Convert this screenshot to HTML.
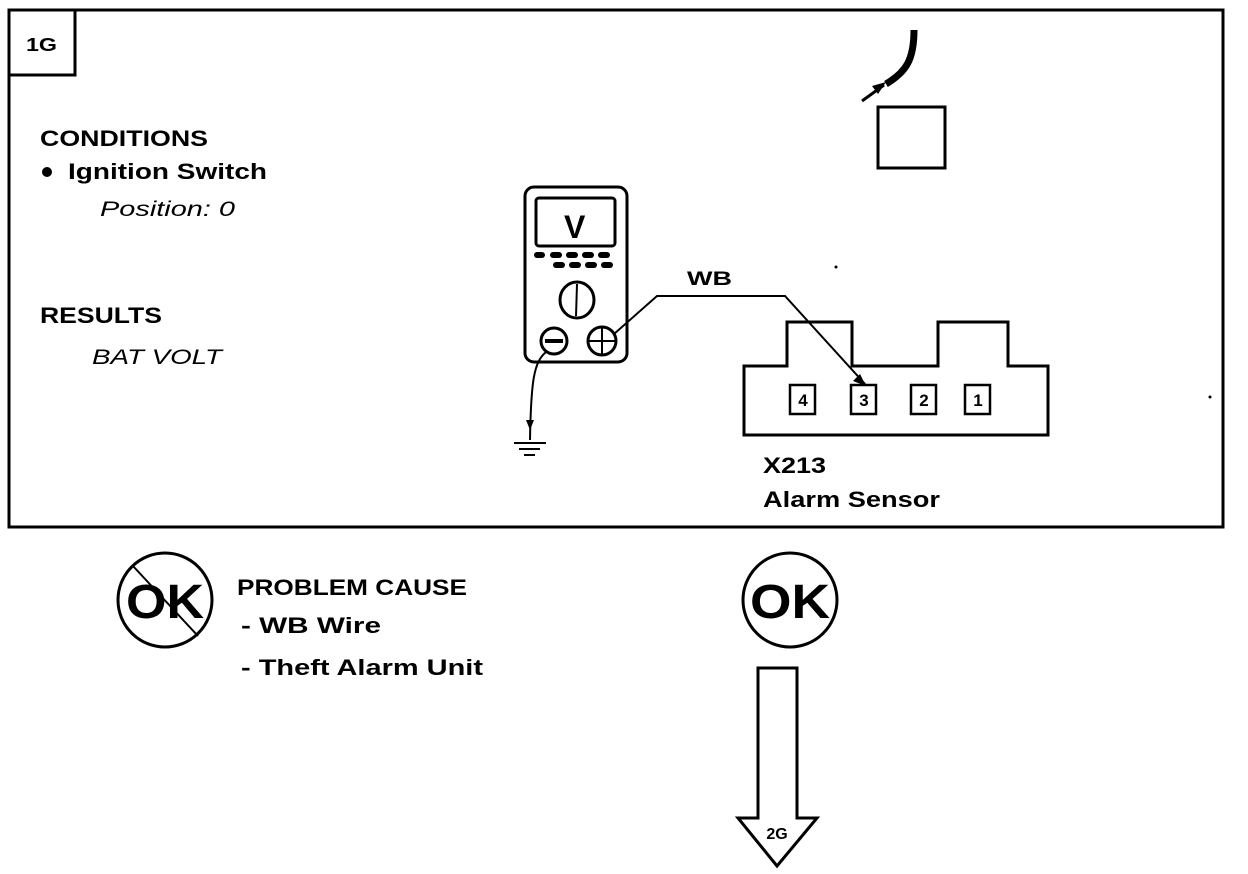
<!DOCTYPE html>
<html><head><meta charset="utf-8"><style>
html,body{margin:0;padding:0;background:#fff;}
svg{display:block;}
text{font-family:"Liberation Sans",Arial,sans-serif;font-weight:bold;fill:#000;}
.it{font-style:italic;font-weight:normal;}
</style></head><body>
<svg width="1248" height="874" viewBox="0 0 1248 874" xmlns="http://www.w3.org/2000/svg">
<rect x="9" y="10" width="1214" height="517" fill="none" stroke="#000" stroke-width="3"/>
<rect x="9" y="10" width="66" height="65" fill="none" stroke="#000" stroke-width="3"/>
<text x="26" y="51" font-size="18" textLength="31" lengthAdjust="spacingAndGlyphs">1G</text>
<text x="40" y="146" font-size="22" textLength="168" lengthAdjust="spacingAndGlyphs">CONDITIONS</text>
<circle cx="47" cy="172" r="5"/>
<text x="68" y="179" font-size="22" textLength="199" lengthAdjust="spacingAndGlyphs">Ignition Switch</text>
<text x="100" y="216" font-size="21" class="it" textLength="135" lengthAdjust="spacingAndGlyphs">Position: 0</text>
<text x="40" y="323" font-size="22" textLength="122" lengthAdjust="spacingAndGlyphs">RESULTS</text>
<text x="92" y="364" font-size="21" class="it" textLength="130" lengthAdjust="spacingAndGlyphs">BAT VOLT</text>

<path d="M914 30 C914 60 906 72 886 84" fill="none" stroke="#000" stroke-width="7"/>
<line x1="862" y1="101" x2="884" y2="85" stroke="#000" stroke-width="3"/>
<polygon points="886,82 872,86 878,94" />
<rect x="878" y="107" width="67" height="61" fill="none" stroke="#000" stroke-width="3"/>
<circle cx="836" cy="267" r="1.5"/><circle cx="1210" cy="397" r="1.5"/>

<rect x="525" y="187" width="102" height="175" rx="9" fill="none" stroke="#000" stroke-width="3"/>
<rect x="536" y="198" width="79" height="48" rx="3" fill="none" stroke="#000" stroke-width="3"/>
<text x="564" y="238" font-size="32">V</text>
<g fill="#000">
<rect x="534" y="252" width="11" height="6" rx="3"/><rect x="550" y="252" width="12" height="6" rx="3"/><rect x="566" y="252" width="12" height="6" rx="3"/><rect x="582" y="252" width="12" height="6" rx="3"/><rect x="598" y="252" width="12" height="6" rx="3"/>
<rect x="553" y="262" width="12" height="6" rx="3"/><rect x="569" y="262" width="12" height="6" rx="3"/><rect x="585" y="262" width="12" height="6" rx="3"/><rect x="601" y="262" width="12" height="6" rx="3"/>
</g>
<ellipse cx="577" cy="300" rx="17" ry="18" fill="none" stroke="#000" stroke-width="3"/>
<line x1="577" y1="284" x2="576" y2="316" stroke="#000" stroke-width="2"/>
<circle cx="554" cy="341" r="13" fill="none" stroke="#000" stroke-width="3"/>
<line x1="545" y1="341" x2="563" y2="341" stroke="#000" stroke-width="4"/>
<circle cx="602" cy="341" r="14" fill="none" stroke="#000" stroke-width="3"/>
<line x1="588" y1="341" x2="616" y2="341" stroke="#000" stroke-width="2"/>
<line x1="602" y1="327" x2="602" y2="355" stroke="#000" stroke-width="2"/>
<path d="M546 352 C534 362 531 380 530 440" fill="none" stroke="#000" stroke-width="2"/>
<polygon points="526,420 534,420 530,430"/>
<line x1="514" y1="443" x2="546" y2="443" stroke="#000" stroke-width="2"/>
<line x1="519" y1="449" x2="540" y2="449" stroke="#000" stroke-width="2"/>
<line x1="524" y1="455" x2="535" y2="455" stroke="#000" stroke-width="2"/>
<polyline points="614,334 657,296 785,296 865,384" fill="none" stroke="#000" stroke-width="2"/>
<polygon points="866,386 853,381 860,374"/>
<text x="687" y="285" font-size="19" textLength="45" lengthAdjust="spacingAndGlyphs">WB</text>
<path d="M744 435 V366 H787 V322 H852 V366 H938 V322 H1008 V366 H1048 V435 Z" fill="none" stroke="#000" stroke-width="3"/>
<g fill="none" stroke="#000" stroke-width="2.5">
<rect x="790" y="385" width="25" height="29"/><rect x="851" y="385" width="25" height="29"/><rect x="911" y="385" width="25" height="29"/><rect x="965" y="385" width="25" height="29"/>
</g>
<g font-size="17" text-anchor="middle">
<text x="803" y="406">4</text><text x="864" y="406">3</text><text x="924" y="406">2</text><text x="978" y="406">1</text>
</g>
<text x="763" y="473" font-size="22" textLength="63" lengthAdjust="spacingAndGlyphs">X213</text>
<text x="763" y="507" font-size="22" textLength="177" lengthAdjust="spacingAndGlyphs">Alarm Sensor</text>

<circle cx="165" cy="600" r="47" fill="none" stroke="#000" stroke-width="3"/>
<line x1="133" y1="566" x2="198" y2="636" stroke="#000" stroke-width="2"/>
<text x="126" y="618" font-size="48" textLength="78" lengthAdjust="spacingAndGlyphs">OK</text>
<text x="237" y="595" font-size="22" textLength="230" lengthAdjust="spacingAndGlyphs">PROBLEM CAUSE</text>
<text x="241" y="633" font-size="22" textLength="140" lengthAdjust="spacingAndGlyphs">- WB  Wire</text>
<text x="241" y="675" font-size="22" textLength="242" lengthAdjust="spacingAndGlyphs">- Theft Alarm Unit</text>
<circle cx="790" cy="600" r="47" fill="none" stroke="#000" stroke-width="3"/>
<text x="750" y="618" font-size="48" textLength="80" lengthAdjust="spacingAndGlyphs">OK</text>
<path d="M758 668 H797 V818 H817 L777 866 L738 818 H758 Z" fill="none" stroke="#000" stroke-width="3"/>
<text x="777" y="839" font-size="16" text-anchor="middle">2G</text>
</svg>
</body></html>
